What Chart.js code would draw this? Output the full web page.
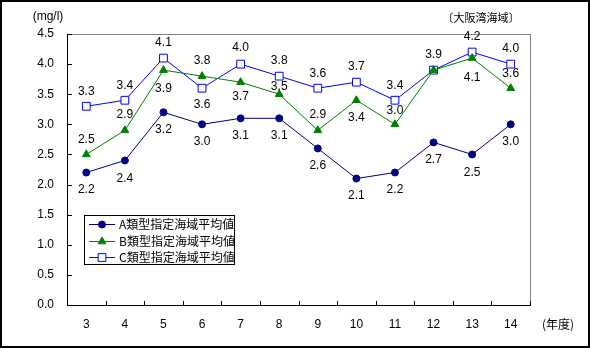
<!DOCTYPE html>
<html>
<head>
<meta charset="utf-8">
<script src="https://cdn.jsdelivr.net/npm/chart.js@4/dist/chart.umd.min.js"></script>
<style>
  html, body { margin: 0; padding: 0; background: #fff; }
</style>
</head>
<body>
<canvas id="chart" width="590" height="348"></canvas>
<script>
const years = ["3", "4", "5", "6", "7", "8", "9", "10", "11", "12", "13", "14"];
const yTicks = [0, 0.5, 1.0, 1.5, 2.0, 2.5, 3.0, 3.5, 4.0, 4.5];

const seriesNames = ["A類型指定海域平均値", "B類型指定海域平均値", "C類型指定海域平均値"];
const valuesA = [2.2, 2.4, 3.2, 3.0, 3.1, 3.1, 2.6, 2.1, 2.2, 2.7, 2.5, 3.0];
const valuesB = [2.5, 2.9, 3.9, 3.8, 3.7, 3.5, 2.9, 3.4, 3.0, 3.9, 4.1, 3.6];
const valuesC = [3.3, 3.4, 4.1, 3.6, 4.0, 3.8, 3.6, 3.7, 3.4, 3.9, 4.2, 4.0];

// vertical shift of each value label from its point (null = no label)
const labelShiftA = [17, 18, 17, 17, 17, 17, 17, 17, 17, 17, 18, 17];
const labelShiftB = [-15, -16, 19, -15, 15, -8, -16, 17, -14, null, 20, -15];
const labelShiftC = [-15, -15, -15, 16, -16, -15, -15, -15, -15, -15, -15, -15];

const numFont = "Liberation Sans, Arial, sans-serif";
const jpFont = "'Noto Sans CJK JP', sans-serif";

const frame = {
  id: "frame",
  beforeDraw(chart) {
    const { ctx, width, height } = chart;
    ctx.save();
    ctx.fillStyle = "#fff";
    ctx.fillRect(0, 0, width, height);
    ctx.strokeStyle = "#000";
    ctx.lineWidth = 2;
    ctx.strokeRect(1, 1, width - 2, height - 2);
    ctx.restore();
  },
  beforeDatasetsDraw(chart) {
    const { ctx, chartArea: a, scales } = chart;
    ctx.save();
    ctx.lineWidth = 1;
    // gray top/right of plot area
    ctx.strokeStyle = "#808080";
    ctx.beginPath();
    ctx.moveTo(a.left, a.top + 0.5);
    ctx.lineTo(a.right + 0.5, a.top + 0.5);
    ctx.lineTo(a.right + 0.5, a.bottom);
    ctx.stroke();
    // black axes
    ctx.strokeStyle = "#000";
    ctx.beginPath();
    ctx.moveTo(a.left + 0.5, a.top);
    ctx.lineTo(a.left + 0.5, a.bottom + 0.5);
    ctx.lineTo(a.right + 1, a.bottom + 0.5);
    // y ticks, pointing inward
    yTicks.forEach(v => {
      const y = Math.round(scales.y.getPixelForValue(v)) + 0.5;
      ctx.moveTo(a.left, y);
      ctx.lineTo(a.left + 5, y);
    });
    // x ticks between categories, pointing inward
    const step = (a.right - a.left) / years.length;
    for (let i = 1; i <= years.length; i++) {
      const x = Math.round(a.left + i * step) + 0.5;
      ctx.moveTo(x, a.bottom);
      ctx.lineTo(x, a.bottom - 4);
    }
    ctx.stroke();

    ctx.fillStyle = "#000";
    ctx.textBaseline = "middle";
    ctx.textAlign = "center";
    ctx.font = "12px " + numFont;
    ctx.fillText("(mg/l)", 48, 17);
    ctx.font = "11px " + jpFont;
    ctx.fillText("〔大阪湾海域〕", 481, 18);
    ctx.font = "12px " + jpFont;
    ctx.fillText("(年度)", 558, 324);
    ctx.restore();
  },
  afterDatasetsDraw(chart) {
    const { ctx } = chart;
    const shifts = [labelShiftA, labelShiftB, labelShiftC];
    ctx.save();
    ctx.fillStyle = "#000";
    ctx.font = "12px " + numFont;
    ctx.textAlign = "center";
    ctx.textBaseline = "middle";
    chart.data.datasets.forEach((ds, di) => {
      const meta = chart.getDatasetMeta(di);
      meta.data.forEach((pt, i) => {
        const s = shifts[di][i];
        if (s === null) return;
        ctx.fillText(ds.data[i].toFixed(1), pt.x, pt.y + s);
      });
    });

    // legend box
    const box = { x: 84, y: 215, w: 150, h: 49 };
    ctx.fillStyle = "#fff";
    ctx.fillRect(box.x, box.y, box.w, box.h);
    ctx.strokeStyle = "#000";
    ctx.lineWidth = 1;
    ctx.strokeRect(box.x + 0.5, box.y + 0.5, box.w, box.h);
    const rows = [224, 241, 257];
    chart.data.datasets.forEach((ds, di) => {
      const y = rows[di] + 0.5;
      ctx.strokeStyle = ds.borderColor;
      ctx.lineWidth = 1;
      ctx.beginPath();
      ctx.moveTo(89, y);
      ctx.lineTo(115, y);
      ctx.stroke();
      ctx.fillStyle = ds.pointBackgroundColor;
      ctx.strokeStyle = ds.pointBorderColor;
      Chart.helpers.drawPoint(ctx, {
        pointStyle: ds.pointStyle,
        radius: ds.pointRadius,
        rotation: 0,
        borderWidth: 1
      }, 102, y);
      ctx.fillStyle = "#000";
      ctx.font = "12px " + jpFont;
      ctx.textAlign = "left";
      ctx.fillText(ds.label, 119, y);
    });
    ctx.restore();
  }
};

new Chart(document.getElementById("chart"), {
  type: "line",
  data: {
    labels: years,
    datasets: [
      {
        label: seriesNames[0],
        data: valuesA,
        borderColor: "#000080",
        pointBackgroundColor: "#000080",
        pointBorderColor: "#000080",
        pointStyle: "circle",
        pointRadius: 3.5
      },
      {
        label: seriesNames[1],
        data: valuesB,
        borderColor: "#008000",
        pointBackgroundColor: "#008000",
        pointBorderColor: "#008000",
        pointStyle: "triangle",
        pointRadius: 4.5
      },
      {
        label: seriesNames[2],
        data: valuesC,
        borderColor: "#0000ff",
        pointBackgroundColor: "#ffffff",
        pointBorderColor: "#0000ff",
        pointStyle: "rect",
        pointRadius: 5.5
      }
    ]
  },
  options: {
    responsive: false,
    animation: false,
    devicePixelRatio: 1,
    elements: {
      line: { borderWidth: 1, tension: 0, fill: false },
      point: { borderWidth: 1, hoverRadius: 4 }
    },
    layout: { padding: { left: 0, top: 34, right: 60, bottom: 0 } },
    plugins: { legend: { display: false }, tooltip: { enabled: false } },
    scales: {
      x: {
        offset: true,
        grid: { display: false, drawTicks: false },
        border: { display: false },
        ticks: {
          color: "#000",
          font: { family: numFont, size: 12 },
          padding: 12,
          maxRotation: 0,
          autoSkip: false
        },
        afterFit: s => { s.height = 43; }
      },
      y: {
        min: 0,
        max: 4.5,
        grid: { display: false, drawTicks: false },
        border: { display: false },
        afterBuildTicks: s => { s.ticks = yTicks.map(v => ({ value: v })); },
        ticks: {
          color: "#000",
          font: { family: numFont, size: 12 },
          padding: 13,
          callback: v => v.toFixed(1)
        },
        afterFit: s => { s.width = 67; }
      }
    }
  },
  plugins: [frame]
});
</script>
</body>
</html>
